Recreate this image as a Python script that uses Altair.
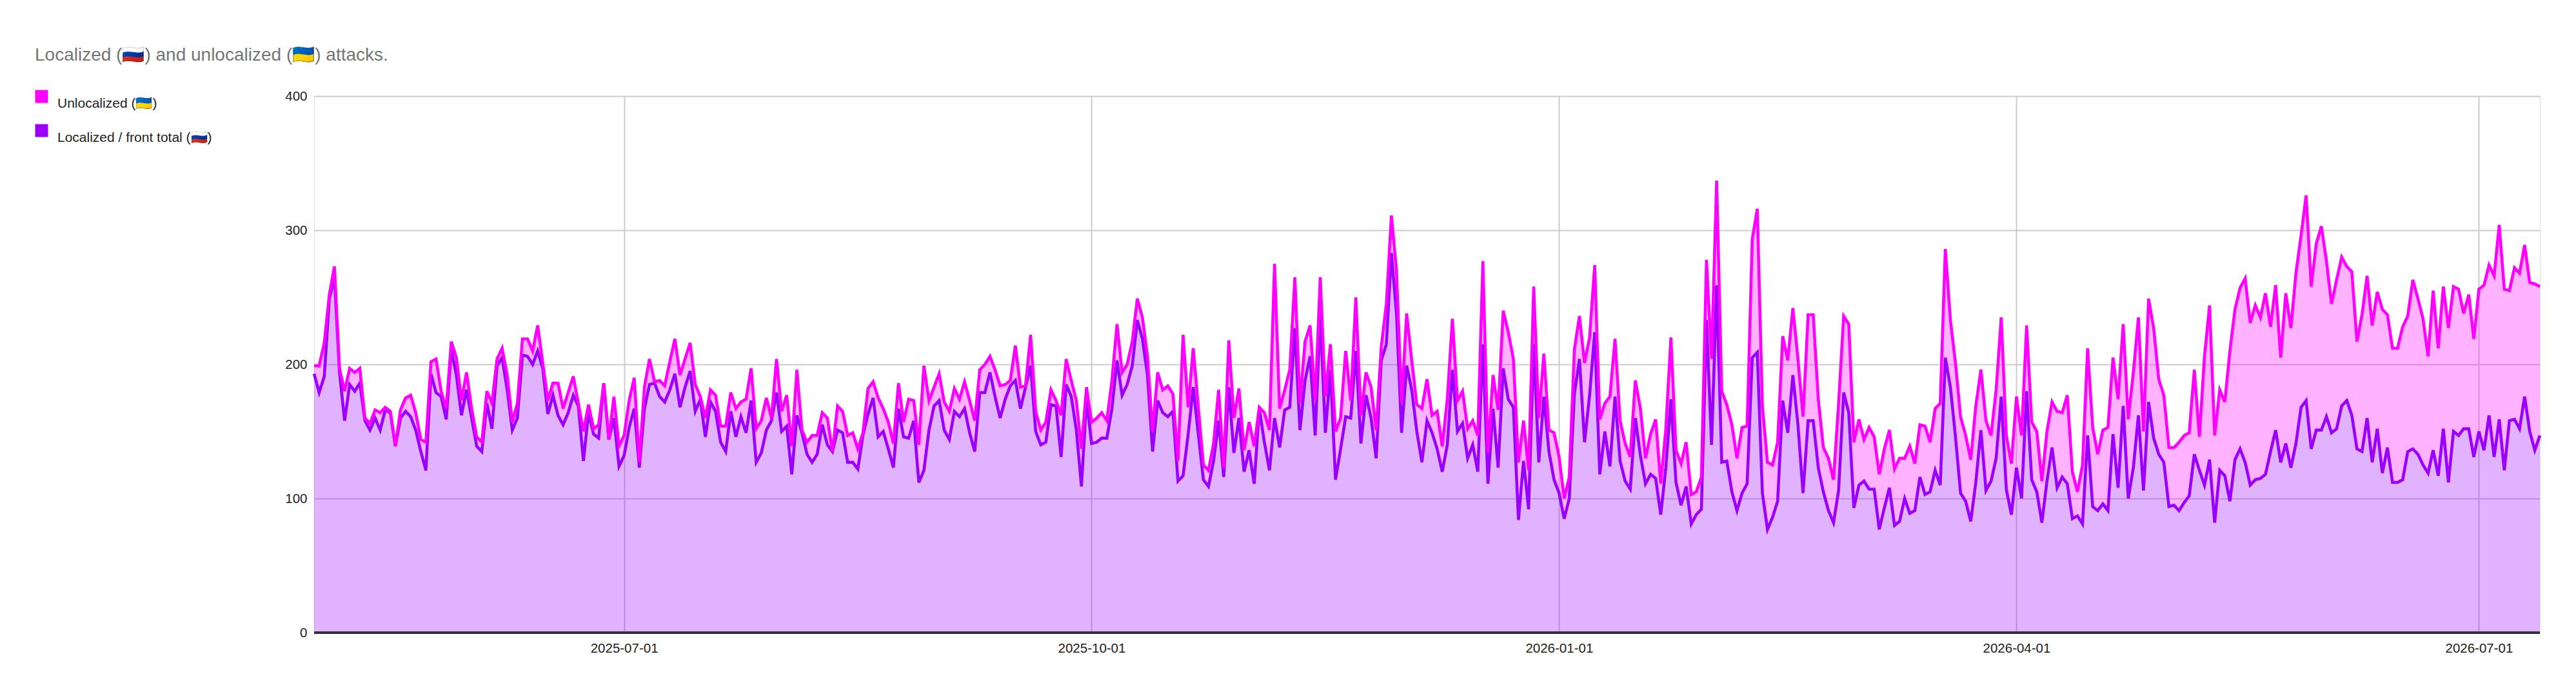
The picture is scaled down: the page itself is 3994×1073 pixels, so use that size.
import json
import altair as alt
import pandas as pd

# ---------------- data ----------------
start_date = "2025-05-01"

# Localized / front total (purple line, lower area)
localized = [
    193, 179, 191, 249, 265, 194, 158, 185, 180, 186,
    158, 151, 160, 151, 166, 164, 139, 160, 165, 161,
    151, 135, 121, 193, 179, 176, 159, 211, 192, 162,
    181, 160, 139, 135, 171, 152, 199, 205, 181, 151,
    160, 207, 206, 200, 210, 197, 163, 177, 162, 155,
    164, 177, 169, 128, 164, 148, 145, 186, 144, 160,
    124, 132, 153, 167, 123, 167, 185, 186, 176, 172,
    181, 193, 168, 183, 195, 165, 174, 146, 172, 165,
    142, 135, 165, 146, 161, 149, 173, 127, 134, 151,
    158, 179, 150, 154, 118, 162, 149, 133, 127, 133,
    155, 140, 135, 151, 149, 127, 127, 122, 147, 163,
    175, 146, 150, 137, 123, 167, 146, 145, 158, 112,
    121, 151, 169, 173, 151, 144, 165, 161, 167, 149,
    135, 179, 179, 194, 176, 160, 174, 184, 188, 167,
    183, 199, 150, 140, 142, 170, 169, 131, 185, 176,
    151, 109, 174, 141, 142, 145, 145, 167, 203, 177,
    185, 199, 233, 219, 192, 135, 173, 164, 161, 165,
    113, 117, 148, 183, 148, 114, 109, 128, 158, 116,
    183, 134, 160, 120, 136, 111, 167, 142, 121, 160,
    138, 166, 168, 227, 151, 188, 206, 147, 238, 149,
    196, 114, 137, 161, 160, 210, 141, 177, 160, 130,
    203, 215, 283, 238, 149, 199, 181, 150, 127, 158,
    149, 137, 120, 140, 196, 150, 156, 130, 140, 120,
    215, 111, 167, 123, 197, 174, 168, 84, 128, 92,
    215, 127, 176, 135, 114, 104, 85, 100, 178, 204,
    142, 177, 224, 118, 150, 124, 176, 128, 113, 107,
    160, 132, 111, 118, 115, 88, 123, 174, 112, 95,
    109, 81, 88, 92, 233, 140, 259, 127, 128, 105,
    91, 104, 111, 205, 209, 104, 77, 86, 98, 173,
    149, 192, 155, 104, 158, 158, 123, 105, 91, 82,
    106, 179, 164, 93, 110, 113, 107, 107, 77, 93,
    108, 80, 83, 100, 89, 91, 116, 103, 105, 121,
    110, 205, 183, 146, 104, 98, 83, 112, 151, 106,
    113, 130, 176, 107, 88, 123, 100, 180, 114, 105,
    82, 113, 138, 108, 116, 111, 85, 87, 81, 147,
    94, 91, 96, 91, 148, 108, 169, 100, 123, 162,
    106, 172, 145, 133, 127, 94, 95, 91, 97, 102,
    133, 121, 110, 129, 82, 121, 117, 98, 129, 137,
    127, 110, 114, 115, 118, 135, 151, 127, 141, 123,
    141, 168, 173, 137, 151, 151, 161, 149, 152, 169,
    173, 162, 137, 135, 160, 127, 152, 119, 138, 112,
    112, 114, 135, 137, 133, 125, 119, 136, 117, 152,
    112, 150, 147, 152, 152, 131, 150, 136, 162, 131,
    159, 121, 158, 159, 152, 176, 150, 136, 147,
]

# Localized + unlocalized (magenta line = top of the stack)
total = [
    199, 199, 216, 252, 273, 197, 180, 197, 194, 197,
    160, 156, 166, 164, 168, 165, 139, 166, 175, 177,
    164, 144, 142, 202, 204, 180, 167, 217, 205, 173,
    194, 167, 146, 142, 180, 171, 204, 212, 192, 157,
    171, 219, 219, 210, 229, 201, 173, 186, 186, 167,
    179, 191, 171, 150, 170, 152, 155, 186, 144, 176,
    139, 147, 173, 190, 127, 183, 204, 187, 188, 184,
    202, 219, 192, 204, 216, 185, 176, 160, 181, 177,
    154, 154, 179, 167, 172, 174, 197, 152, 158, 175,
    160, 204, 165, 177, 139, 196, 151, 142, 147, 147,
    164, 160, 135, 169, 165, 147, 149, 137, 149, 182,
    187, 175, 167, 157, 141, 186, 157, 174, 173, 140,
    199, 173, 183, 193, 172, 165, 182, 174, 187, 173,
    158, 196, 200, 206, 196, 184, 185, 188, 214, 183,
    184, 222, 165, 151, 157, 181, 173, 162, 204, 188,
    173, 137, 183, 157, 160, 164, 158, 188, 230, 194,
    200, 217, 249, 235, 206, 150, 194, 181, 184, 178,
    128, 222, 168, 212, 168, 125, 121, 141, 181, 123,
    218, 160, 182, 136, 157, 139, 168, 164, 151, 275,
    167, 181, 196, 265, 171, 217, 229, 173, 265, 176,
    215, 150, 160, 210, 173, 250, 162, 194, 183, 151,
    213, 245, 311, 270, 171, 238, 203, 170, 167, 189,
    162, 165, 139, 174, 234, 173, 180, 152, 158, 147,
    277, 134, 192, 166, 240, 224, 204, 127, 158, 121,
    258, 160, 208, 151, 149, 131, 100, 116, 211, 236,
    201, 220, 274, 159, 171, 176, 219, 158, 141, 131,
    188, 167, 130, 148, 159, 111, 152, 220, 136, 126,
    142, 103, 105, 116, 278, 204, 337, 180, 170, 155,
    130, 153, 154, 293, 316, 169, 127, 125, 142, 221,
    203, 242, 204, 161, 237, 237, 174, 138, 130, 114,
    171, 236, 230, 142, 159, 144, 153, 146, 118, 137,
    151, 122, 130, 130, 139, 126, 155, 154, 142, 167,
    171, 286, 233, 201, 161, 147, 129, 169, 196, 158,
    147, 181, 235, 147, 126, 176, 147, 229, 157, 150,
    113, 150, 172, 165, 164, 177, 120, 105, 125, 212,
    153, 133, 151, 153, 205, 174, 230, 159, 194, 235,
    150, 249, 227, 189, 177, 138, 138, 142, 147, 149,
    196, 146, 206, 244, 147, 181, 172, 210, 241, 257,
    264, 231, 244, 235, 253, 228, 259, 205, 253, 227,
    268, 296, 326, 258, 290, 303, 277, 245, 263, 280,
    273, 269, 217, 237, 266, 229, 254, 241, 237, 212,
    212, 228, 236, 263, 249, 234, 206, 255, 212, 258,
    227, 258, 256, 238, 252, 219, 256, 259, 274, 266,
    304, 256, 255, 272, 268, 289, 261, 260, 258,
]

tick_dates = ["2025-07-01", "2025-10-01", "2026-01-01", "2026-04-01", "2026-07-01"]
y_ticks = [0, 100, 200, 300, 400]
series_labels = ["Unlocalized (🇺🇦)", "Localized / front total (🇷🇺)"]
series_colors = ["#ff00ff", "#9900ff"]
title_text = "Localized (🇷🇺) and unlocalized (🇺🇦) attacks."

# ---------------- table ----------------
dates = pd.date_range(start_date, periods=len(localized), freq="D")
df = pd.DataFrame({
    "date": dates.strftime("%Y-%m-%d"),
    "localized": localized,
    "total": total,
})


def dt(ts):
    ts = pd.Timestamp(ts)
    return alt.DateTime(year=ts.year, month=ts.month, date=ts.day, utc=True)


FONT = "Liberation Sans, Arial, sans-serif"
PLOT_W = 3451
PLOT_H = 832

x_enc = alt.X(
    "date:T",
    scale=alt.Scale(type="utc", domain=[dt(dates[0]), dt(dates[-1])], nice=False),
    axis=alt.Axis(
        values=[dt(d) for d in tick_dates],
        format="%Y-%m-%d",
        title=None,
        grid=True,
        gridColor="#cccccc",
        gridWidth=2,
        ticks=False,
        domain=False,
        labelPadding=14,
        labelFontSize=20.5,
        labelFont=FONT,
        labelColor="#222222",
        labelFlush=False,
    ),
)

y_scale = alt.Scale(domain=[0, 400], nice=False)
y_axis = alt.Axis(
    values=y_ticks,
    title=None,
    grid=True,
    gridColor="#cccccc",
    gridWidth=2,
    ticks=False,
    domain=False,
    labelPadding=11,
    labelFontSize=20.5,
    labelFont=FONT,
    labelColor="#222222",
)

color_scale = alt.Scale(domain=series_labels, range=series_colors)
legend = alt.Legend(
    title=None,
    orient="none",
    legendX=-433,
    legendY=-10,
    direction="vertical",
    symbolType="square",
    symbolSize=400,
    symbolOpacity=1,
    symbolStrokeWidth=0,
    labelFontSize=21,
    labelFont=FONT,
    labelColor="#222222",
    labelOffset=14,
    labelBaseline="top",
    labelLimit=0,
    rowPadding=21,
    padding=0,
)
color_enc = alt.Color("series:N", scale=color_scale, legend=legend)

base = alt.Chart(df).encode(x=x_enc)

lower_area = (
    base.transform_calculate(series=json.dumps(series_labels[1], ensure_ascii=False))
    .mark_area(fillOpacity=0.3)
    .encode(y=alt.Y("localized:Q", scale=y_scale, axis=y_axis), color=color_enc)
)
upper_area = (
    base.transform_calculate(series=json.dumps(series_labels[0], ensure_ascii=False))
    .mark_area(fillOpacity=0.3)
    .encode(y=alt.Y("total:Q", scale=y_scale, axis=y_axis), y2="localized:Q", color=color_enc)
)
purple_line = base.mark_line(color=series_colors[1], strokeWidth=4.6).encode(
    y=alt.Y("localized:Q", scale=y_scale, axis=y_axis)
)
magenta_line = base.mark_line(color=series_colors[0], strokeWidth=4.6).encode(
    y=alt.Y("total:Q", scale=y_scale, axis=y_axis)
)
baseline = alt.Chart(df).mark_rule(color="#333333", strokeWidth=2.5).encode(
    y=alt.YDatum(0),
    x=alt.value(0),
    x2=alt.value(PLOT_W),
)

chart = (
    alt.layer(lower_area, upper_area, purple_line, magenta_line, baseline)
    .properties(
        width=PLOT_W,
        height=PLOT_H,
        autosize="none",
        padding={"left": 479, "top": 141, "right": 40, "bottom": 60},
        title=alt.TitleParams(
            text=title_text,
            anchor="start",
            frame="group",
            fontSize=28,
            font=FONT,
            fontWeight="normal",
            color="#757575",
            baseline="alphabetic",
            dx=-433,
            offset=17,
        ),
    )
    .configure_view(stroke=None)
    .configure(background="white")
)

chart.save("out.html", embed_options={"renderer": "svg", "actions": False})
